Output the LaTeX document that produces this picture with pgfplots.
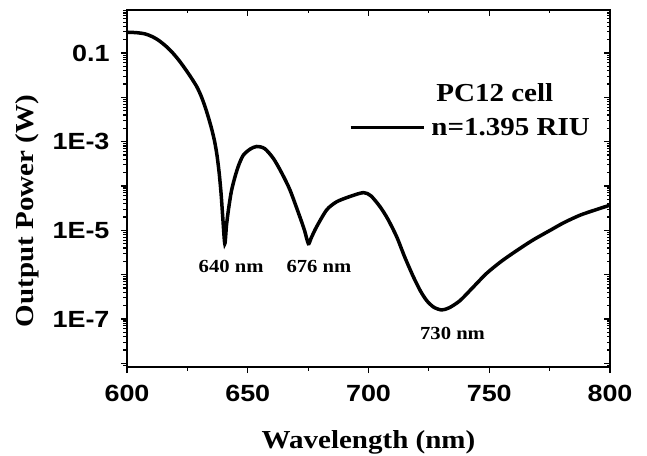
\documentclass[border=0pt]{standalone}
\usepackage{pgfplots}
\pgfplotsset{compat=1.18}
\usepackage{fontspec}
\setmainfont{Liberation Serif}
\newfontfamily\tickfont[FakeStretch=1.15]{Liberation Sans}
\newfontfamily\labfont[FakeStretch=1.12]{Liberation Serif}
\begin{document}
\begin{tikzpicture}
\begin{axis}[
    width=483bp, height=357bp, scale only axis,
    xmin=600, xmax=800,
    ymode=log, ymin=8.26e-9, ymax=0.935,
    axis line style={line width=1.3bp},
    tick style={black, line width=1.1bp},
    major tick length=6bp, minor tick length=3.5bp,
    xtick={600,650,700,750,800},
    minor xtick={625,675,725,775},
    ytick={1e-8,1e-7,1e-6,1e-5,1e-4,1e-3,1e-2,1e-1},
    minor ytick={2e-9,3e-9,4e-9,5e-9,6e-9,7e-9,8e-9,9e-9,2e-8,3e-8,4e-8,5e-8,6e-8,7e-8,8e-8,9e-8,2e-7,3e-7,4e-7,5e-7,6e-7,7e-7,8e-7,9e-7,2e-6,3e-6,4e-6,5e-6,6e-6,7e-6,8e-6,9e-6,2e-5,3e-5,4e-5,5e-5,6e-5,7e-5,8e-5,9e-5,2e-4,3e-4,4e-4,5e-4,6e-4,7e-4,8e-4,9e-4,2e-3,3e-3,4e-3,5e-3,6e-3,7e-3,8e-3,9e-3,2e-2,3e-2,4e-2,5e-2,6e-2,7e-2,8e-2,9e-2,2e-1,3e-1,4e-1,5e-1,6e-1,7e-1,8e-1,9e-1},
    xtick pos=left, ytick pos=left, tick align=outside,
    xticklabels={600,650,700,750,800},
    yticklabels={,1E-7,,1E-5,,1E-3,,0.1},
    ticklabel style={font=\tickfont\bfseries\fontsize{23.5}{23.5}\selectfont},
    yticklabel style={xshift=-8bp},
    xticklabel style={yshift=-9bp},
    xlabel={Wavelength (nm)},
    ylabel={Output Power (W)},
    label style={font=\labfont\bfseries\fontsize{26}{26}\selectfont},
    xlabel style={at={(axis description cs:0.5,-0.21)}, anchor=center},
    ylabel style={at={(axis description cs:-0.207,0.437)}, anchor=center},
    legend style={draw=none, fill=none, at={(rel axis cs:0.459,0.8)}, anchor=north west,
      font=\labfont\bfseries\fontsize{26}{26}\selectfont, inner sep=0pt,
      row sep=11bp, /tikz/every odd column/.append style={column sep=4bp}},
    legend cell align=left,
    legend image code/.code={\draw[line width=3.5bp] (0bp,0bp) -- (73bp,0bp);},
    clip=false,
]
\addlegendimage{empty legend}
\addlegendentry{\hspace{5bp}PC12 cell}
\addplot[black, line width=3.5bp, smooth, tension=0.45] coordinates {
(600,0.295) (604,0.288) (607.5,0.27) (610.5,0.234) (613,0.195) (615.8,0.148)
(618.5,0.107) (621.3,0.0708) (624,0.0447) (626.5,0.0282) (628.9,0.0174)
(630.7,0.0107) (632.3,6.2e-3) (633.8,3.4e-3) (635.1,1.9e-3) (636.3,1.0e-3)
(637.3,4.8e-4) (638.2,1.9e-4) (639.0,6.3e-5) (639.7,1.8e-5) (640.5,5.0e-6)
(641.2,1.3e-5) (642.0,2.9e-5) (643.2,7.5e-5) (644.7,1.6e-4) (646.3,3.0e-4)
(648.2,5.0e-4) (651,6.8e-4) (653.7,7.8e-4) (657,7.0e-4) (660.6,4.2e-4)
(664,2.0e-4) (667.5,8.1e-5) (671.6,2.0e-5) (673.5,1.0e-5) (675.1,5.0e-6)
(676.2,6.6e-6) (678.5,1.2e-5) (682.7,2.9e-5) (686.8,4.4e-5) (692.3,5.8e-5)
(697.9,7.1e-5) (701,6.0e-5) (704.8,3.4e-5) (708,1.8e-5) (711.7,7.1e-6)
(715,2.5e-6) (718.6,8.9e-7) (721.5,4.3e-7) (724.1,2.6e-7) (727,1.85e-7)
(730.3,1.6e-7) (733.5,1.8e-7) (737.9,2.6e-7) (743,5.0e-7) (748.9,1.07e-6)
(755,2.0e-6) (761.4,3.5e-6) (768,6.0e-6) (775.2,1.0e-5) (781,1.5e-5)
(787.6,2.2e-5) (794,2.9e-5) (800,3.7e-5)
};
\addlegendentry{n=1.395 RIU}
\node[font=\labfont\bfseries\fontsize{18.5}{18.5}\selectfont] at (axis cs:643.1,1.55e-6) {640 nm};
\node[font=\labfont\bfseries\fontsize{18.5}{18.5}\selectfont] at (axis cs:679.5,1.55e-6) {676 nm};
\node[font=\labfont\bfseries\fontsize{18.5}{18.5}\selectfont] at (axis cs:734.8,4.8e-8) {730 nm};
\end{axis}
\begin{axis}[
    width=483bp, height=357bp, scale only axis,
    xmin=600, xmax=800,
    ymode=log, ymin=8.26e-9, ymax=0.935,
    axis line style={line width=1.3bp},
    tick style={black, line width=1.1bp},
    major tick length=6bp, minor tick length=3.5bp,
    xtick={600,650,700,750,800},
    minor xtick={625,675,725,775},
    ytick={1e-8,1e-7,1e-6,1e-5,1e-4,1e-3,1e-2,1e-1},
    minor ytick={2e-9,3e-9,4e-9,5e-9,6e-9,7e-9,8e-9,9e-9,2e-8,3e-8,4e-8,5e-8,6e-8,7e-8,8e-8,9e-8,2e-7,3e-7,4e-7,5e-7,6e-7,7e-7,8e-7,9e-7,2e-6,3e-6,4e-6,5e-6,6e-6,7e-6,8e-6,9e-6,2e-5,3e-5,4e-5,5e-5,6e-5,7e-5,8e-5,9e-5,2e-4,3e-4,4e-4,5e-4,6e-4,7e-4,8e-4,9e-4,2e-3,3e-3,4e-3,5e-3,6e-3,7e-3,8e-3,9e-3,2e-2,3e-2,4e-2,5e-2,6e-2,7e-2,8e-2,9e-2,2e-1,3e-1,4e-1,5e-1,6e-1,7e-1,8e-1,9e-1},
    xtick pos=right, ytick pos=right, tick align=inside,
    xticklabels={}, yticklabels={},
]
\end{axis}
\pgfresetboundingbox
\path ([xshift=-127bp,yshift=-89bp]current axis.south west) rectangle ([xshift=37bp,yshift=10bp]current axis.north east);
\end{tikzpicture}
\end{document}
